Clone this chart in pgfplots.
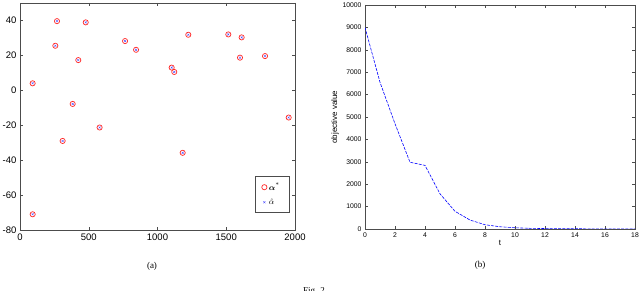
\documentclass[border=0pt]{standalone}
\usepackage{amsmath}
\usepackage{fontspec}
\setmainfont{Liberation Sans}
\newfontfamily\capfont{Liberation Serif}
\usepackage{pgfplots}
\pgfplotsset{compat=1.18}
\begin{document}
\begin{tikzpicture}
\useasboundingbox (0pt,0pt) rectangle (640pt,291pt);
\pgfplotsset{
  every axis/.append style={
    scale only axis,
    /pgf/number format/assume math mode=true,
    tick align=inside,
    major tick length=3pt,
    tick style={black!70, line width=0.4pt},
    axis line style={black!70, line width=0.5pt},
    xtick pos=both, ytick pos=both,
  },
}
\begin{axis}[
  at={(20pt,61pt)}, anchor=south west,
  width=275pt, height=227pt,
  xmin=0, xmax=2000, ymin=-80, ymax=50,
  xtick={0,500,1000,1500,2000},
  ytick={-80,-60,-40,-20,0,20,40},
  tick label style={font=\fontsize{9.5}{10}\selectfont},
  scaled x ticks=false,
  xticklabel style={/pgf/number format/1000 sep={}},
  legend style={at={(1,0)}, anchor=south east, xshift=-6pt, yshift=18pt,
    draw=black!70, font=\fontsize{8}{9}\selectfont, row sep=3pt, inner xsep=7pt, inner ysep=4pt},
  legend cell align=left,
]
\addplot[only marks, mark=o, mark options={draw=red!85!white, line width=0.7pt}, mark size=2.6pt] coordinates {
(92,4) (92,-71) (257,25.5) (269,39.6) (310,-29) (383,-7.8) (424,17.3) (478,38.9)
(579,-21.3) (764,28.2) (844,23.2) (1103,13) (1122,10.5) (1183,-35.8) (1224,31.8)
(1515,32) (1600,18.7) (1612,30.3) (1782,19.6) (1954,-15.6)
};
\addlegendentry{$\boldsymbol{\alpha}^{\raisebox{2pt}{$\scriptstyle *$}}$}
\addplot[only marks, mark=x, mark options={draw=blue!70, line width=0.4pt}, mark size=1.4pt] coordinates {
(92,4) (92,-71) (257,25.5) (269,39.6) (310,-29) (383,-7.8) (424,17.3) (478,38.9)
(579,-21.3) (764,28.2) (844,23.2) (1103,13) (1122,10.5) (1183,-35.8) (1224,31.8)
(1515,32) (1600,18.7) (1612,30.3) (1782,19.6) (1954,-15.6)
};
\addlegendentry{$\hat{\alpha}$}
\end{axis}
\begin{axis}[
  at={(365pt,62pt)}, anchor=south west,
  width=270pt, height=224pt,
  xmin=0, xmax=18, ymin=0, ymax=10000,
  xtick={0,2,...,18},
  ytick={0,1000,...,10000},
  tick label style={font=\fontsize{6.8}{8}\selectfont},
  scaled y ticks=false,
  yticklabel style={/pgf/number format/1000 sep={}},
  xlabel={t}, ylabel={objective value},
  label style={font=\fontsize{8}{9}\selectfont},
  xlabel style={yshift=4pt},
  ylabel style={yshift=-3pt},
]
\addplot[blue, line width=0.6pt, dash pattern=on 3pt off 1.2pt] coordinates {
(0,9000) (1,6550) (2,4700) (3,2980) (4,2840) (5,1570) (6,790) (7,400) (8,190)
(9,100) (10,55) (11,30) (12,20) (13,14) (14,10) (15,8) (16,6) (17,5) (18,4)
};
\end{axis}
\node[font=\capfont\fontsize{9}{10}\selectfont] at (152pt,25pt) {(a)};
\node[font=\capfont\fontsize{9}{10}\selectfont] at (480pt,26pt) {(b)};
\node[font=\capfont\fontsize{9}{10}\selectfont, anchor=north west, inner sep=0pt] at (303pt,3.5pt) {Fig. 2};
\end{tikzpicture}
\end{document}
